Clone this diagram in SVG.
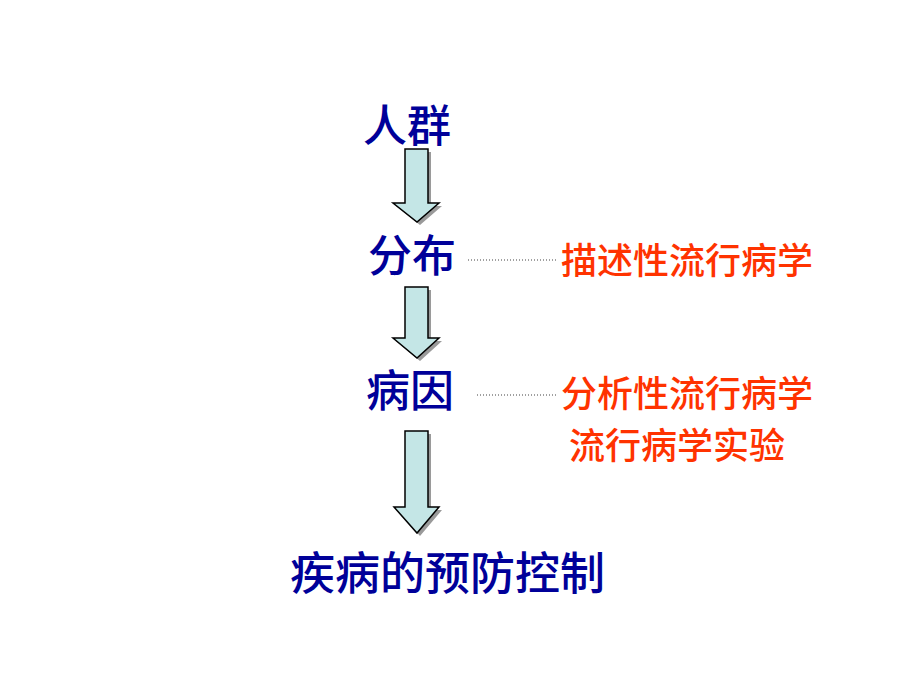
<svg xmlns="http://www.w3.org/2000/svg" width="920" height="690" viewBox="0 0 920 690">
  <defs>
    <style>
      .node { font-family: "Noto Sans CJK SC", "Noto Sans", sans-serif; font-size: 44px; font-weight: 500; fill: #000099; }
      .method { font-family: "Noto Sans CJK SC", "Noto Sans", sans-serif; font-size: 36px; font-weight: 500; fill: #FF3300; }
      .arrow { fill: #C4E6E6; stroke: #000000; stroke-width: 1.5; stroke-linejoin: miter; }
      .shadow { fill: #9A9A9A; }
      .dots { stroke: #A0A0A0; stroke-width: 2; stroke-dasharray: 1 2; fill: none; }
    </style>
  </defs>
  <rect width="920" height="690" fill="#FFFFFF"/>

  <g id="connectors">
    <g id="arrow1">
      <polygon class="shadow" points="408,152 431,152 431,206 442,206 420,225 396,206 408,206"/>
      <polygon class="arrow" points="405,149 428,149 428,203 439,203 417,222 393,203 405,203"/>
    </g>
    <g id="arrow2">
      <polygon class="shadow" points="408,290 431,290 431,341 442,341 420,361 396,341 408,341"/>
      <polygon class="arrow" points="405,287 428,287 428,338 439,338 417,358 393,338 405,338"/>
    </g>
    <g id="arrow3">
      <polygon class="shadow" points="408,434 431,434 431,510 442,510 420,536 397,510 408,510"/>
      <polygon class="arrow" points="405,431 428,431 428,507 439,507 417,533 394,507 405,507"/>
    </g>
    <line class="dots" x1="468" y1="260" x2="557" y2="260"/>
    <line class="dots" x1="477" y1="395" x2="557" y2="395"/>
  </g>

  <g id="node-renqun"><text class="node" x="363" y="142">人群</text></g>
  <g id="node-fenbu"><text class="node" x="368" y="272">分布</text></g>
  <g id="node-bingyin"><text class="node" x="366" y="407">病因</text></g>
  <g id="node-control"><text class="node" x="290" y="590" style="font-size:45px">疾病的预防控制</text></g>

  <g id="label-descriptive"><text class="method" x="561" y="274">描述性流行病学</text></g>
  <g id="label-analytic"><text class="method" x="561" y="407">分析性流行病学</text></g>
  <g id="label-experimental"><text class="method" x="569" y="459">流行病学实验</text></g>
</svg>
